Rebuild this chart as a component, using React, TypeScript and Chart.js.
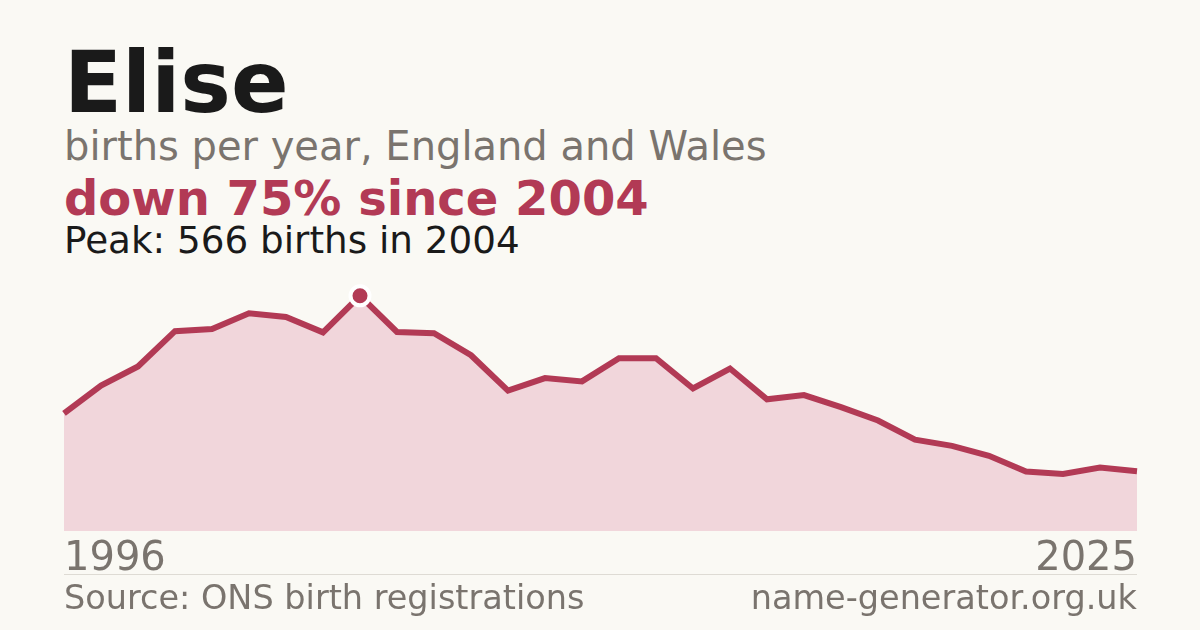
import React, { useEffect, useRef } from 'react';
import { Chart, registerables } from 'chart.js';

Chart.register(...registerables);

const years: string[] = [
    '1996', '1997', '1998', '1999', '2000', '2001', '2002', '2003', '2004', '2005',
    '2006', '2007', '2008', '2009', '2010', '2011', '2012', '2013', '2014', '2015',
    '2016', '2017', '2018', '2019', '2020', '2021', '2022', '2023', '2024', '2025',
];
const births: number[] = [
    283, 350, 396, 481, 486, 524, 515, 478, 566, 479,
    476, 423, 338, 368, 360, 416, 416, 343, 391, 317,
    327, 298, 266, 220, 205, 181, 143, 137, 153, 144,
];
const peakIndex = 8;

const BG = '#faf9f4';
const CRIMSON = '#b23a55';
const FILL = '#f1d6db';
const GREY = '#7a746e';
const FONT = '"DejaVu Sans", sans-serif';

const BirthsChart: React.FC = () => {
    const canvasRef = useRef<HTMLCanvasElement>(null);
    const chartRef = useRef<Chart | null>(null);

    useEffect(() => {
        if (!canvasRef.current) return;
        if (chartRef.current) chartRef.current.destroy();

        chartRef.current = new Chart(canvasRef.current, {
            type: 'line',
            data: {
                labels: years,
                datasets: [
                    {
                        data: births,
                        borderColor: CRIMSON,
                        borderWidth: 6,
                        backgroundColor: FILL,
                        fill: 'origin',
                        tension: 0,
                        clip: false,
                        pointRadius: births.map((_, i) => (i === peakIndex ? 9.5 : 0)),
                        pointHoverRadius: 0,
                        pointBackgroundColor: CRIMSON,
                        pointBorderColor: '#ffffff',
                        pointBorderWidth: 4,
                    },
                ],
            },
            options: {
                responsive: false,
                animation: false,
                layout: { padding: { top: 20, left: 64, right: 63, bottom: 0 } },
                plugins: {
                    legend: { display: false },
                    tooltip: { enabled: false },
                },
                scales: {
                    x: {
                        offset: false,
                        grid: { display: false },
                        border: { display: false },
                        ticks: {
                            autoSkip: false,
                            maxRotation: 0,
                            align: 'inner',
                            padding: -3,
                            color: GREY,
                            font: { family: FONT, size: 40 },
                            callback: (_v, i) =>
                                i === 0 || i === years.length - 1 ? years[i] : '',
                        },
                    },
                    y: {
                        display: false,
                        min: 0,
                        max: 580,
                    },
                },
            },
        });

        return () => {
            if (chartRef.current) {
                chartRef.current.destroy();
                chartRef.current = null;
            }
        };
    }, []);

    return (
        <canvas
            ref={canvasRef}
            width={1200}
            height={311}
            style={{ position: 'absolute', left: 0, top: 270, width: 1200, height: 311 }}
        />
    );
};

const text = (top: number, size: number, color: string, bold = false): React.CSSProperties => ({
    position: 'absolute',
    left: 64,
    top,
    fontSize: size,
    lineHeight: 1,
    color,
    fontWeight: bold ? 'bold' : 'normal',
    whiteSpace: 'nowrap',
});

export default function App() {
    return (
        <div
            style={{
                position: 'fixed',
                left: 0,
                top: 0,
                width: 1200,
                height: 630,
                background: BG,
                fontFamily: FONT,
                overflow: 'hidden',
            }}
        >
            <div style={text(40, 85, '#1a1a1a', true)}>Elise</div>
            <div style={text(126, 40, GREY)}>births per year, England and Wales</div>
            <div style={text(174, 48, CRIMSON, true)}>down 75% since 2004</div>
            <div style={text(222, 37.3, '#1a1a1a')}>Peak: 566 births in 2004</div>
            <BirthsChart />
            <div
                style={{
                    position: 'absolute',
                    left: 64,
                    width: 1073,
                    top: 574,
                    height: 1,
                    background: '#dedbd4',
                }}
            />
            <div style={text(581, 33.5, GREY)}>Source: ONS birth registrations</div>
            <div style={{ ...text(581, 33.5, GREY), left: 'auto', right: 63 }}>name-generator.org.uk</div>
        </div>
    );
}
